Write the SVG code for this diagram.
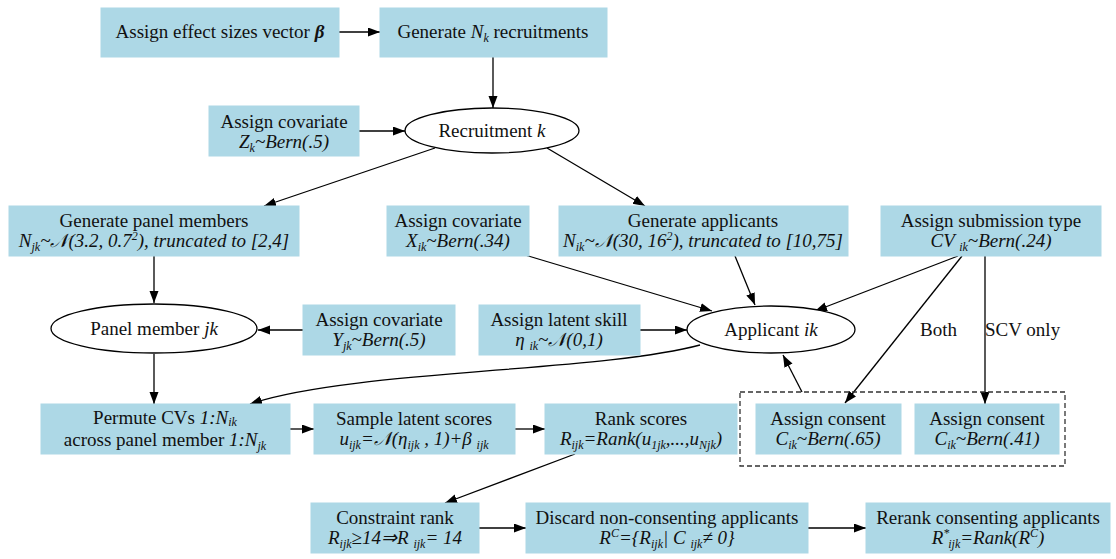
<svg xmlns="http://www.w3.org/2000/svg" width="1116" height="559" viewBox="0 0 1116 559">
<defs>
<marker id="ah" markerUnits="userSpaceOnUse" markerWidth="13" markerHeight="10" refX="12" refY="4.5" orient="auto">
<path d="M0,0 L12,4.5 L0,9 z" fill="#000"/>
</marker>
<style>
.box{fill:#add8e6;stroke:#add8e6;stroke-width:1}
.ell{fill:#fff;stroke:#000;stroke-width:1.3}
.t{font-family:'Liberation Serif',Tinos,'Times New Roman',serif;font-size:19px;text-anchor:middle;fill:#111}
.i{font-style:italic}
.b{font-weight:bold}
.s{font-size:12px}
.edge{fill:none;stroke:#000;stroke-width:1.3;marker-end:url(#ah)}
.lbl{font-family:'Liberation Serif',Tinos,'Times New Roman',serif;font-size:19px;fill:#111}
</style>
</defs>
<rect width="1116" height="559" fill="#fff"/>

<g id="connectors">
<path class="edge" d="M339,32 L380,32"/>
<path class="edge" d="M493,57 L493,108"/>
<path class="edge" d="M359,131 L405,131"/>
<path class="edge" d="M435,148 L264,206"/>
<path class="edge" d="M547,148 L645,206"/>
<path class="edge" d="M154,256 L154,303"/>
<path class="edge" d="M303,330 L258,330"/>
<path class="edge" d="M525,255 L712,311"/>
<path class="edge" d="M735,256 L755,305"/>
<path class="edge" d="M958,256 L815,311"/>
<path class="edge" d="M640,330 L687,330"/>
<path class="edge" d="M962,256 L845,403"/>
<path class="edge" d="M985,256 L985,404"/>
<path class="edge" d="M802,392 L783,355"/>
<path class="edge" d="M700,345 C600,372 350,370 250,404"/>
<path class="edge" d="M154,354 L154,404"/>
<path class="edge" d="M290,429 L314,429"/>
<path class="edge" d="M515,429 L545,429"/>
<path class="edge" d="M575,454 L445,503"/>
<path class="edge" d="M479,528 L526,528"/>
<path class="edge" d="M808,528 L866,528"/>
<text class="lbl" x="920" y="336">Both</text>
<text class="lbl" x="985" y="336">SCV only</text>
</g>

<g id="effect">
<rect class="box" x="101" y="8" width="238" height="49"/>
<text class="t" x="220" y="38">Assign effect sizes vector <tspan class="i b">β</tspan></text>
</g>

<g id="gen_recruit">
<rect class="box" x="380" y="8" width="227" height="49"/>
<text class="t" x="493" y="38">Generate <tspan class="i">N</tspan><tspan class="i s" dy="4">k</tspan><tspan dy="-4"> recruitments</tspan></text>
</g>

<g id="cov_z">
<rect class="box" x="209" y="106" width="150" height="50"/>
<text class="t" x="284" y="128">Assign covariate</text>
<text class="t i" x="284" y="148">Z<tspan class="s" dy="4">k</tspan><tspan dy="-4">~Bern(.5)</tspan></text>
</g>

<g id="recruitment">
<ellipse class="ell" cx="492" cy="130.5" rx="87" ry="22.5"/>
<text class="t" x="492" y="137">Recruitment <tspan class="i">k</tspan></text>
</g>

<g id="gen_panel">
<rect class="box" x="9" y="206" width="290" height="50"/>
<text class="t" x="154" y="227">Generate panel members</text>
<text class="t i" x="154" y="247">N<tspan class="s" dy="4">jk</tspan><tspan dy="-4">~𝒩(3.2, 0.7</tspan><tspan class="s" dy="-7">2</tspan><tspan dy="7">), truncated to [2,4]</tspan></text>
</g>

<g id="cov_x">
<rect class="box" x="387" y="206" width="142" height="50"/>
<text class="t" x="458" y="227">Assign covariate</text>
<text class="t i" x="458" y="247">X<tspan class="s" dy="4">ik</tspan><tspan dy="-4">~Bern(.34)</tspan></text>
</g>

<g id="gen_applicants">
<rect class="box" x="559" y="206" width="289" height="50"/>
<text class="t" x="703" y="227">Generate applicants</text>
<text class="t i" x="703" y="247">N<tspan class="s" dy="4">ik</tspan><tspan dy="-4">~𝒩(30, 16</tspan><tspan class="s" dy="-7">2</tspan><tspan dy="7">), truncated to [10,75]</tspan></text>
</g>

<g id="sub_type">
<rect class="box" x="881" y="206" width="220" height="50"/>
<text class="t" x="991" y="227">Assign submission type</text>
<text class="t i" x="991" y="247">CV <tspan class="s" dy="4">ik</tspan><tspan dy="-4">~Bern(.24)</tspan></text>
</g>

<g id="panel_member">
<ellipse class="ell" cx="154" cy="328.5" rx="103" ry="24.5"/>
<text class="t" x="154" y="335">Panel member <tspan class="i">jk</tspan></text>
</g>

<g id="cov_y">
<rect class="box" x="303" y="305" width="152" height="50"/>
<text class="t" x="379" y="326">Assign covariate</text>
<text class="t i" x="379" y="346">Y<tspan class="s" dy="4">jk</tspan><tspan dy="-4">~Bern(.5)</tspan></text>
</g>

<g id="latent_skill">
<rect class="box" x="479" y="305" width="161" height="50"/>
<text class="t" x="559" y="326">Assign latent skill</text>
<text class="t i" x="559" y="346">η <tspan class="s" dy="4">ik</tspan><tspan dy="-4">~𝒩(0,1)</tspan></text>
</g>

<g id="applicant">
<ellipse class="ell" cx="771" cy="329.5" rx="84" ry="23.5"/>
<text class="t" x="771" y="336">Applicant <tspan class="i">ik</tspan></text>
</g>

<g id="permute">
<rect class="box" x="41" y="404" width="249" height="50"/>
<text class="t" x="165" y="424">Permute CVs <tspan class="i">1:N</tspan><tspan class="i s" dy="2">ik</tspan></text>
<text class="t" x="165" y="446">across panel member <tspan class="i">1:N</tspan><tspan class="i s" dy="4">jk</tspan></text>
</g>

<g id="sample">
<rect class="box" x="314" y="404" width="201" height="50"/>
<text class="t" x="414" y="425">Sample latent scores</text>
<text class="t i" x="414" y="445">u<tspan class="s" dy="4">ijk</tspan><tspan dy="-4">=𝒩(η</tspan><tspan class="s" dy="4">ijk</tspan><tspan dy="-4"> , 1)+β  </tspan><tspan class="s" dy="4">ijk</tspan></text>
</g>

<g id="rank">
<rect class="box" x="545" y="404" width="192" height="50"/>
<text class="t" x="641" y="425">Rank scores</text>
<text class="t i" x="641" y="445">R<tspan class="s" dy="4">ijk</tspan><tspan dy="-4">=Rank(u</tspan><tspan class="s" dy="4">1jk</tspan><tspan dy="-4">,...,u</tspan><tspan class="s" dy="4">Njk</tspan><tspan dy="-4">)</tspan></text>
</g>

<g id="consent_cluster">
<rect x="740" y="392" width="325" height="74" fill="none" stroke="#333" stroke-width="1.3" stroke-dasharray="5,3"/>
</g>

<g id="consent_both">
<rect class="box" x="756" y="404" width="145" height="50"/>
<text class="t" x="828" y="425">Assign consent</text>
<text class="t i" x="828" y="445">C<tspan class="s" dy="4">ik</tspan><tspan dy="-4">~Bern(.65)</tspan></text>
</g>

<g id="consent_scv">
<rect class="box" x="915" y="404" width="144" height="50"/>
<text class="t" x="987" y="425">Assign consent</text>
<text class="t i" x="987" y="445">C<tspan class="s" dy="4">ik</tspan><tspan dy="-4">~Bern(.41)</tspan></text>
</g>

<g id="constraint">
<rect class="box" x="311" y="503" width="168" height="50"/>
<text class="t" x="395" y="524">Constraint rank</text>
<text class="t i" x="395" y="544">R<tspan class="s" dy="4">ijk</tspan><tspan dy="-4">≥14⇒R  </tspan><tspan class="s" dy="4">ijk</tspan><tspan dy="-4">= 14</tspan></text>
</g>

<g id="discard">
<rect class="box" x="526" y="503" width="282" height="50"/>
<text class="t" x="667" y="524">Discard non-consenting applicants</text>
<text class="t i" x="667" y="544">R<tspan class="s" dy="-7">C</tspan><tspan dy="7">={R</tspan><tspan class="s" dy="4">ijk</tspan><tspan dy="-4">| C </tspan><tspan class="s" dy="4">ijk</tspan><tspan dy="-4">≠ 0}</tspan></text>
</g>

<g id="rerank">
<rect class="box" x="866" y="503" width="244" height="50"/>
<text class="t" x="988" y="524">Rerank consenting applicants</text>
<text class="t i" x="988" y="544">R<tspan class="s" dy="-7">*</tspan><tspan class="s" dx="-1" dy="11">ijk</tspan><tspan dy="-4">=Rank(R</tspan><tspan class="s" dy="-7">C</tspan><tspan dy="7">)</tspan></text>
</g>
</svg>
